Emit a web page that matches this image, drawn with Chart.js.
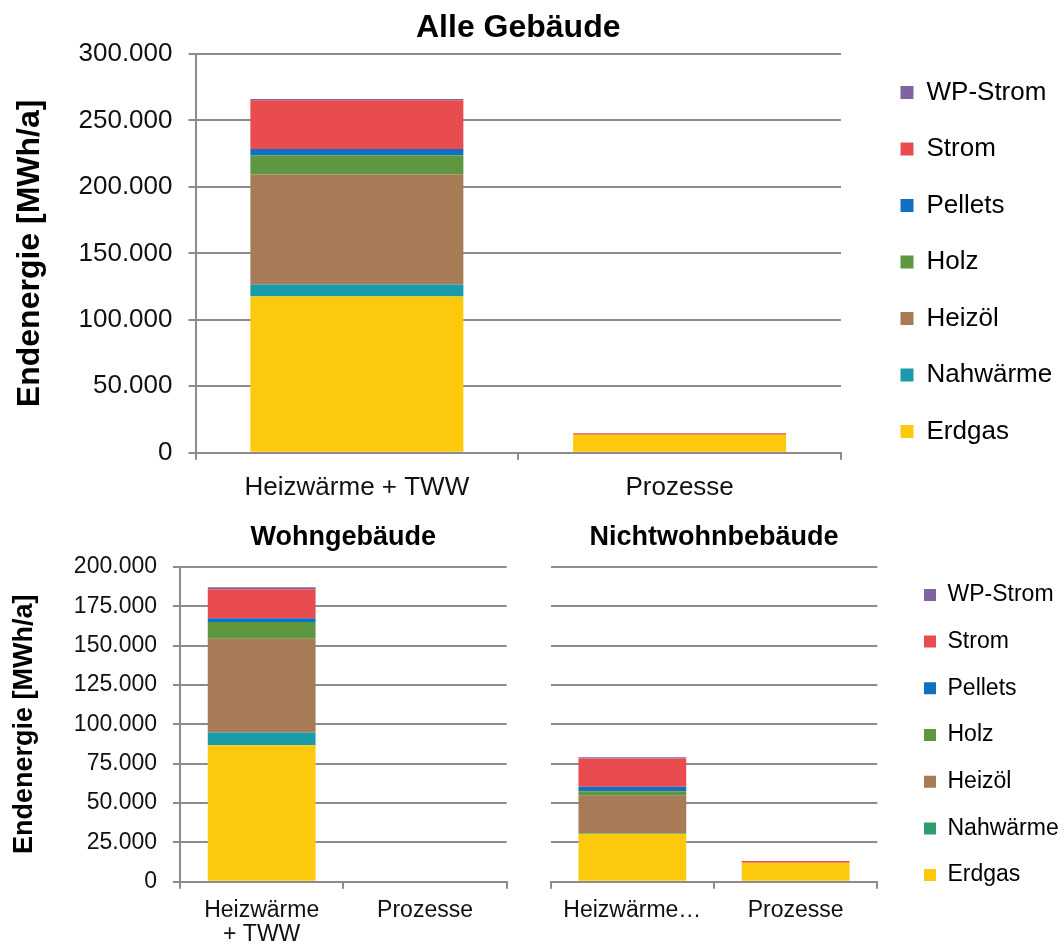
<!DOCTYPE html>
<html lang="de">
<head>
<meta charset="utf-8">
<title>Endenergie nach Energieträgern</title>
<script src="https://cdn.jsdelivr.net/npm/chart.js@4.4.1/dist/chart.umd.min.js"></script>
<style>
  html, body { margin: 0; padding: 0; background: #fff; overflow: hidden; width: 1064px; height: 947px; }
  .box { position: absolute; }
  #alleBox { left: 0; top: 0; width: 1064px; height: 524px; }
  #wohnBox { left: 0; top: 505px; width: 528px; height: 442px; }
  #nichtwohnBox { left: 528px; top: 514px; width: 546px; height: 442px; }
</style>
</head>
<body>
<div class="box" id="alleBox"><canvas id="alleChart"></canvas></div>
<div class="box" id="wohnBox"><canvas id="wohnChart"></canvas></div>
<div class="box" id="nichtwohnBox"><canvas id="nichtwohnChart"></canvas></div>

<script>
// Kategorien und Energieträger (Reihenfolge = Stapel von unten nach oben)
const categories = ['Heizwärme + TWW', 'Prozesse'];
const carriers = ['Erdgas', 'Nahwärme', 'Heizöl', 'Holz', 'Pellets', 'Strom', 'WP-Strom'];

// Endenergie in MWh/a je Energieträger (gleiche Reihenfolge wie carriers)
const alleHeizwaerme = [117600, 9000, 82700, 14300, 5000, 36600, 1000];
const alleProzesse = [13500, 0, 0, 0, 0, 1100, 0];

const wohnHeizwaerme = [86700, 8100, 59600, 10600, 2500, 18400, 1300];
const wohnProzesse = [0, 0, 0, 0, 0, 0, 0];

const nichtwohnHeizwaerme = [30400, 500, 23700, 2900, 2800, 18000, 800];
const nichtwohnProzesse = [12000, 0, 0, 0, 0, 1100, 0];

// Achsen
const alleTicks = { max: 300000, step: 50000 };
const teilTicks = { max: 200000, step: 25000 };

// Farben
const carrierColors = ['#FDC90D', '#1A9BA8', '#A77B55', '#5F9640', '#1170C0', '#E84C4F', '#8064A2'];
const nichtwohnColors = ['#FDC90D', '#2F9D6E', '#A77B55', '#5F9640', '#1170C0', '#E84C4F', '#8064A2'];

const FONT = "'Liberation Sans', Arial, sans-serif";
const GRID = '#8c8c8c';
const TEXT = '#111';

Chart.defaults.font.family = FONT;
Chart.defaults.color = TEXT;

function fmt(v) {
    return String(v).replace(/\B(?=(\d{3})+(?!\d))/g, '.');
}

function makeSets(heiz, proz, colors) {
    return carriers.map((name, i) => ({
        label: name,
        data: [heiz[i], proz[i]],
        backgroundColor: colors[i],
        borderWidth: 0,
        barPercentage: 0.66,
        categoryPercentage: 1
    }));
}

// feste Legendenbreite + Abstand zum Diagramm (wie im Original)
function legendBox(width, gap) {
    return {
        id: 'legendBox',
        afterInit(chart) {
            const legend = chart.legend;
            if (!legend) return;
            const fit = legend.fit;
            legend.fit = function () {
                fit.call(this);
                this.width = width;
            };
        },
        afterLayout(chart) {
            if (chart.legend) chart.legend.left += gap;
        }
    };
}

// Alle Gebäude
new Chart(document.getElementById('alleChart'), {
    type: 'bar',
    data: { labels: categories, datasets: makeSets(alleHeizwaerme, alleProzesse, carrierColors) },
    options: {
        responsive: true,
        maintainAspectRatio: false,
        animation: false,
        layout: { padding: 0 },
        plugins: {
            title: {
                display: true, text: 'Alle Gebäude', fullSize: false, color: '#000',
                font: { size: 32, weight: 'bold' }, padding: { top: 9, bottom: 6.6 }
            },
            legend: {
                position: 'right', reverse: true,
                labels: { boxWidth: 13, boxHeight: 13, padding: 30.5, color: '#000', font: { size: 26 } }
            },
            tooltip: { enabled: false }
        },
        scales: {
            x: {
                stacked: true,
                grid: { drawOnChartArea: false, tickLength: 7, color: GRID, lineWidth: 2 },
                border: { color: GRID, width: 2 },
                ticks: { font: { size: 26 }, padding: 12.5, maxRotation: 0, autoSkip: false },
                afterFit: s => { s.height = 524 - 452.7; }
            },
            y: {
                stacked: true, min: 0, max: alleTicks.max,
                ticks: { stepSize: alleTicks.step, callback: fmt, font: { size: 26 }, padding: 16 },
                grid: { color: GRID, lineWidth: 2, tickLength: 7 },
                border: { color: GRID, width: 2 },
                title: {
                    display: true, text: 'Endenergie [MWh/a]', color: '#000',
                    font: { size: 32, weight: 'bold' }, padding: { top: 11, bottom: 0 }
                },
                afterFit: s => { s.width = 195.5; }
            }
        }
    },
    plugins: [legendBox(223, 29)]
});

// Wohngebäude
new Chart(document.getElementById('wohnChart'), {
    type: 'bar',
    data: { labels: categories, datasets: makeSets(wohnHeizwaerme, wohnProzesse, carrierColors) },
    options: {
        responsive: true,
        maintainAspectRatio: false,
        animation: false,
        layout: { padding: { right: 21.3 } },
        plugins: {
            title: {
                display: true, text: 'Wohngebäude', fullSize: false, color: '#000',
                font: { size: 27, weight: 'bold' }, padding: { top: 16.5, bottom: 13.1 }
            },
            legend: { display: false },
            tooltip: { enabled: false }
        },
        scales: {
            x: {
                stacked: true,
                grid: { drawOnChartArea: false, tickLength: 7, color: GRID, lineWidth: 2 },
                border: { color: GRID, width: 2 },
                ticks: {
                    font: { size: 23, lineHeight: 1.05 }, padding: 10, maxRotation: 0, autoSkip: false,
                    callback: function (value) {
                        return this.getLabelForValue(value).split(/ (?=\+)/);
                    }
                },
                afterFit: s => { s.height = 442 - 376.7; }
            },
            y: {
                stacked: true, min: 0, max: teilTicks.max,
                ticks: { stepSize: teilTicks.step, callback: fmt, font: { size: 23 }, padding: 16 },
                grid: { color: GRID, lineWidth: 2, tickLength: 7 },
                border: { color: GRID, width: 2 },
                title: {
                    display: true, text: 'Endenergie [MWh/a]', color: '#000',
                    font: { size: 27, weight: 'bold' }, padding: { top: 8, bottom: 0 }
                },
                afterFit: s => { s.width = 180; }
            }
        }
    }
});

// Nichtwohngebäude
new Chart(document.getElementById('nichtwohnChart'), {
    type: 'bar',
    data: { labels: categories, datasets: makeSets(nichtwohnHeizwaerme, nichtwohnProzesse, nichtwohnColors) },
    options: {
        responsive: true,
        maintainAspectRatio: false,
        animation: false,
        layout: { padding: 0 },
        plugins: {
            title: {
                display: true, text: 'Nichtwohnbebäude', fullSize: false, color: '#000',
                font: { size: 27, weight: 'bold' }, padding: { top: 7.8, bottom: 12.8 }
            },
            legend: {
                position: 'right', reverse: true,
                labels: { boxWidth: 12, boxHeight: 12, padding: 23.7, color: '#000', font: { size: 23 } }
            },
            tooltip: { enabled: false }
        },
        scales: {
            x: {
                stacked: true,
                grid: { drawOnChartArea: false, tickLength: 7, color: GRID, lineWidth: 2 },
                border: { color: GRID, width: 2 },
                ticks: {
                    font: { size: 23, lineHeight: 1.05 }, padding: 10.2, maxRotation: 0, autoSkip: false,
                    callback: function (value) {
                        const l = this.getLabelForValue(value);
                        return l.length > 12 ? l.slice(0, 9) + '…' : l;
                    }
                },
                afterFit: s => { s.height = 442 - 367.7; }
            },
            y: {
                stacked: true, min: 0, max: teilTicks.max,
                ticks: { display: false, stepSize: teilTicks.step },
                grid: { color: GRID, lineWidth: 2, drawTicks: false },
                border: { display: false },
                afterFit: s => { s.width = 22.7; }
            }
        }
    },
    plugins: [legendBox(196.7, 23)]
});
</script>
</body>
</html>
